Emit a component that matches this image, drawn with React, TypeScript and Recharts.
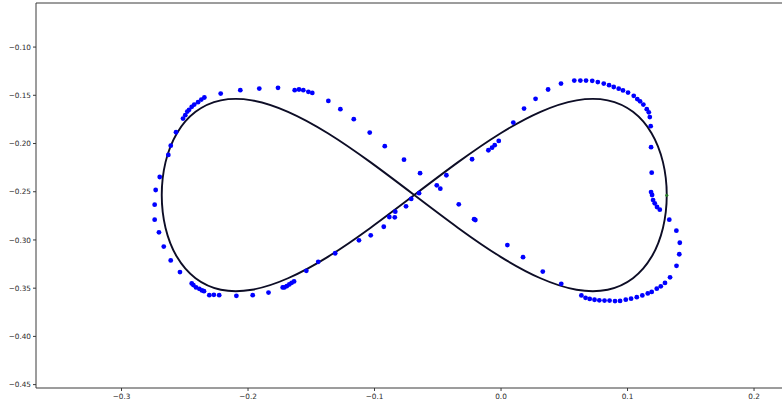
import { ScatterChart, Scatter, XAxis, YAxis, ReferenceLine } from "recharts"

// smooth figure-eight curve, traced from the crossing point
const curvePoints: [number, number][] = [
  [-0.0686, -0.2534], [-0.1033, -0.2875], [-0.1369, -0.3175], [-0.1684, -0.3397],
  [-0.1969, -0.3516], [-0.2215, -0.3516], [-0.2415, -0.3397], [-0.2562, -0.3175],
  [-0.2652, -0.2875], [-0.2682, -0.2534], [-0.2652, -0.2193], [-0.2562, -0.1893],
  [-0.2415, -0.1671], [-0.2215, -0.1552], [-0.1969, -0.1552], [-0.1684, -0.1671],
  [-0.1369, -0.1893], [-0.1033, -0.2193], [-0.0686, -0.2534], [-0.0339, -0.2875],
  [-0.0003, -0.3175], [0.0312, -0.3397], [0.0597, -0.3516], [0.0843, -0.3516],
  [0.1043, -0.3397], [0.119, -0.3175], [0.128, -0.2875], [0.131, -0.2534],
  [0.128, -0.2193], [0.119, -0.1893], [0.1043, -0.1671], [0.0843, -0.1552],
  [0.0597, -0.1552], [0.0312, -0.1671], [-0.0003, -0.1893], [-0.0339, -0.2193],
  [-0.0686, -0.2534],
]

// blue samples
const samplePoints: [number, number][] = [
  [-0.2345, -0.1523], [-0.2369, -0.1544], [-0.2395, -0.1571], [-0.2425, -0.1596],
  [-0.2445, -0.162], [-0.2466, -0.1651], [-0.248, -0.1669], [-0.2496, -0.1706],
  [-0.2514, -0.1741], [-0.2569, -0.1883], [-0.2611, -0.2022], [-0.263, -0.2118],
  [-0.2698, -0.2347], [-0.273, -0.2482], [-0.2738, -0.2634], [-0.2738, -0.279],
  [-0.2704, -0.2921], [-0.2666, -0.3069], [-0.2611, -0.3212], [-0.2538, -0.3333],
  [-0.2445, -0.3451], [-0.2432, -0.3468], [-0.2411, -0.3492], [-0.2385, -0.3507],
  [-0.2364, -0.3523], [-0.2348, -0.3531], [-0.2306, -0.3572], [-0.227, -0.3569],
  [-0.2228, -0.3572], [-0.2092, -0.3579], [-0.1963, -0.3572], [-0.1838, -0.3546],
  [-0.1726, -0.3492], [-0.1713, -0.3492], [-0.1694, -0.3479], [-0.1674, -0.3461],
  [-0.1655, -0.3444], [-0.1636, -0.343], [-0.1539, -0.332], [-0.1445, -0.3227],
  [-0.1311, -0.3138], [-0.1123, -0.3004], [-0.103, -0.2952], [-0.0927, -0.2863],
  [-0.0883, -0.2762], [-0.084, -0.2765], [-0.0836, -0.2707], [-0.0751, -0.2651],
  [-0.071, -0.2575], [-0.0648, -0.2515],
  [-0.2216, -0.1482], [-0.2061, -0.1447], [-0.1911, -0.143], [-0.1763, -0.1423],
  [-0.1631, -0.1447], [-0.1597, -0.144], [-0.1563, -0.1447], [-0.1523, -0.1464],
  [-0.1492, -0.1475], [-0.1365, -0.1558], [-0.127, -0.1644], [-0.1164, -0.1748],
  [-0.1038, -0.1887], [-0.0919, -0.2028], [-0.0767, -0.2168], [-0.064, -0.2307],
  [-0.0508, -0.2433], [-0.048, -0.2468], [-0.0432, -0.2329], [-0.0334, -0.263],
  [-0.0229, -0.2163], [-0.0213, -0.2785], [-0.0203, -0.2793], [-0.01, -0.207],
  [-0.0071, -0.2043], [-0.005, -0.2017], [-0.0018, -0.1973], [0.005, -0.3053],
  [0.0097, -0.1783], [0.0174, -0.3178], [0.0182, -0.1638], [0.0273, -0.1537],
  [0.033, -0.3328], [0.0372, -0.144], [0.0474, -0.1378], [0.0476, -0.3455],
  [0.0579, -0.1347], [0.0627, -0.1347], [0.0672, -0.1347], [0.0721, -0.135],
  [0.0765, -0.1363], [0.0812, -0.1378], [0.0854, -0.1395], [0.0891, -0.1414],
  [0.093, -0.1431], [0.0964, -0.1449], [0.1004, -0.1472], [0.1049, -0.1506],
  [0.1077, -0.1539], [0.1099, -0.1563], [0.1125, -0.1596], [0.1152, -0.1644],
  [0.1168, -0.1677], [0.1176, -0.1726], [0.1183, -0.182], [0.1186, -0.2038],
  [0.1191, -0.2302], [0.1186, -0.2503], [0.1194, -0.2534], [0.1202, -0.2586],
  [0.1215, -0.262], [0.1233, -0.2658], [0.1255, -0.2686], [0.133, -0.279],
  [0.1386, -0.2904], [0.1413, -0.3029], [0.1409, -0.3148], [0.1387, -0.3268],
  [0.1336, -0.3387], [0.1296, -0.3445], [0.1263, -0.3481], [0.1231, -0.3505],
  [0.1191, -0.3539], [0.116, -0.3554], [0.1117, -0.3575], [0.1073, -0.3593],
  [0.1028, -0.3609], [0.0986, -0.3619], [0.0941, -0.3632], [0.0901, -0.3634],
  [0.0858, -0.3629], [0.0818, -0.3629], [0.0777, -0.3626], [0.0739, -0.362],
  [0.0701, -0.3611], [0.0668, -0.36], [0.0635, -0.3575],
]

const startPoint: [number, number][] = [[0.131, -0.2537]]

const xTicks = [-0.3, -0.2, -0.1, 0.0, 0.1, 0.2]
const yTicks = [-0.45, -0.4, -0.35, -0.3, -0.25, -0.2, -0.15, -0.1]
const xDomain = [-0.3676, 0.2221]
const yDomain = [-0.4535, -0.0543]

const toRows = (pts: [number, number][]) => pts.map(([x, y]) => ({ x, y }))
const fmt = (digits: number) => (v: number) => v.toFixed(digits).replace("-", "\u2212")

const axisColor = "#3a3a3a"
const tickStyle = { fontSize: 7.3, fill: "#2b2b2b", fontFamily: "DejaVu Sans" }

export default function App() {
  return (
    <div style={{ position: "absolute", left: 0, top: 0, background: "#fff" }}>
      <ScatterChart width={782} height={404} margin={{ top: 3, right: 0, bottom: 0, left: 0 }}>
        <XAxis
          type="number"
          dataKey="x"
          domain={xDomain}
          ticks={xTicks}
          allowDataOverflow
          tickFormatter={fmt(1)}
          height={16}
          tick={tickStyle}
          tickSize={3}
          tickMargin={3}
          stroke={axisColor}
        />
        <YAxis
          type="number"
          dataKey="y"
          domain={yDomain}
          ticks={yTicks}
          allowDataOverflow
          tickFormatter={fmt(2)}
          width={36}
          tick={tickStyle}
          tickSize={3}
          tickMargin={2}
          stroke={axisColor}
        />
        <ReferenceLine y={yDomain[1]} stroke={axisColor} ifOverflow="visible" />
        <Scatter
          data={toRows(curvePoints)}
          line={{ stroke: "#0d0d26", strokeWidth: 1.9 }}
          lineJointType="natural"
          shape={() => <g />}
          isAnimationActive={false}
        />
        <Scatter
          data={toRows(samplePoints)}
          shape={(p: any) => <circle cx={p.cx} cy={p.cy} r={2.4} fill="#0000ff" />}
          isAnimationActive={false}
        />
        <Scatter
          data={toRows(startPoint)}
          shape={(p: any) => <circle cx={p.cx} cy={p.cy} r={1.6} fill="#2a7a2a" />}
          isAnimationActive={false}
        />
      </ScatterChart>
    </div>
  )
}
